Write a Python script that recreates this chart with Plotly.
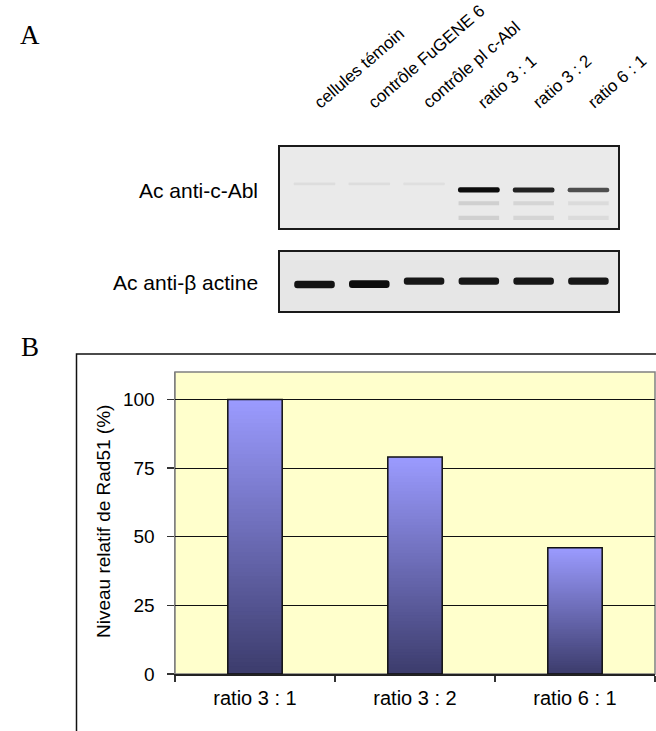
import plotly.graph_objects as go

W, H = 656, 731


def px(x):
    return x / W


def py(y):
    return 1 - y / H


# ---------------- data ----------------
categories = ["ratio 3 : 1", "ratio 3 : 2", "ratio 6 : 1"]
rad51_level = [100, 79, 46]
y_ticks = [0, 25, 50, 75, 100]
y_title = "Niveau relatif de Rad51 (%)"

lanes = ["cellules témoin", "contrôle FuGENE 6", "contrôle pl c-Abl",
         "ratio 3 : 1", "ratio 3 : 2", "ratio 6 : 1"]
abl_signal = [0.05, 0.05, 0.04, 1.0, 0.9, 0.7]        # relative band intensity
abl_smear = [0.0, 0.0, 0.0, 0.22, 0.18, 0.13]        # faint smear below band
actin_signal = [0.97, 1.0, 0.95, 0.95, 0.95, 0.95]
row_labels = ["Ac anti-c-Abl", "Ac anti-β actine"]
panel_labels = ["A", "B"]

SANS = "Liberation Sans, Arial, sans-serif"
SERIF = "Liberation Serif, Times New Roman, serif"


def grey(intensity, light=232, dark=12):
    g = int(round(light - (light - dark) * intensity))
    return f"rgb({g},{g},{g})"


fig = go.Figure()

# ---------------- panel B: gradient bars (overlapping slices, bottom -> top) ----------------
N = 70
bottom_rgb = (60, 60, 108)
top_rgb = (155, 155, 255)
for k in range(N):
    t = (k + 0.5) / N
    c = tuple(int(round(b + (tp - b) * t)) for b, tp in zip(bottom_rgb, top_rgb))
    col = f"rgb{c}"
    overlap = 2.0 if k < N - 1 else 1.0
    fig.add_trace(go.Bar(
        x=categories,
        y=[v / N * overlap for v in rad51_level],
        base=[v * k / N for v in rad51_level],
        width=0.34,
        marker=dict(color=col, line=dict(width=0)),
        showlegend=False, hoverinfo="skip",
        xaxis="x", yaxis="y",
    ))
fig.add_trace(go.Bar(
    x=categories, y=rad51_level, width=0.34,
    marker=dict(color="rgba(0,0,0,0)", line=dict(color="#111111", width=1.5)),
    showlegend=False, xaxis="x", yaxis="y",
))

# ---------------- panel A: blots ----------------
for pos in (0.10, 0.28):
    fig.add_trace(go.Bar(
        x=lanes, y=[0.05] * len(lanes), base=[pos] * len(lanes),
        width=0.74,
        marker=dict(color=[f"rgba(120,120,120,{s})" for s in abl_smear], line=dict(width=0)),
        showlegend=False, hoverinfo="skip", xaxis="x2", yaxis="y2",
    ))
abl_pos = [0.545 if s < 0.5 else 0.47 for s in abl_signal]
abl_thick = [0.03 + 0.035 * s for s in abl_signal]
fig.add_trace(go.Bar(
    x=lanes, y=abl_thick, base=[p - t / 2 for p, t in zip(abl_pos, abl_thick)],
    width=0.76,
    marker=dict(color=[grey(s) for s in abl_signal], line=dict(width=0), cornerradius=2),
    showlegend=False, hoverinfo="skip", xaxis="x2", yaxis="y2",
))
actin_pos = [0.45, 0.455, 0.505, 0.505, 0.505, 0.505]
actin_thick = [0.13 * s for s in actin_signal]
fig.add_trace(go.Bar(
    x=lanes, y=actin_thick, base=[p - t / 2 for p, t in zip(actin_pos, actin_thick)],
    width=0.74,
    marker=dict(color=[grey(s) for s in actin_signal], line=dict(width=0), cornerradius=3),
    showlegend=False, hoverinfo="skip", xaxis="x3", yaxis="y3",
))

blot_x = [px(280), px(618)]
lane_range = [-0.63, 5.54]

fig.update_layout(
    width=W, height=H,
    margin=dict(l=0, r=0, t=0, b=0),
    paper_bgcolor="white", plot_bgcolor="rgba(0,0,0,0)",
    barmode="overlay",
    showlegend=False,
    font=dict(family=SANS, color="black"),
    xaxis=dict(
        domain=[px(175), px(655)], anchor="y",
        type="category", range=[-0.5, 2.5],
        showline=True, linecolor="#222222", linewidth=1.5,
        ticks="outside", tickson="boundaries", ticklen=6, tickcolor="#333333", tickwidth=1.2,
        tickfont=dict(size=20, family=SANS, color="black"),
        ticklabelstandoff=5,
        showgrid=False, automargin=False, fixedrange=True,
    ),
    yaxis=dict(
        domain=[py(674), py(372)], anchor="x",
        range=[0, 110], tickvals=y_ticks,
        showline=True, linecolor="#808080", linewidth=1.5,
        ticks="outside", ticklen=7, tickcolor="#333333", tickwidth=1.2,
        tickfont=dict(size=19, family=SANS, color="black"),
        ticklabelstandoff=8,
        showgrid=True, gridcolor="#111111", gridwidth=1,
        zeroline=False, automargin=False, fixedrange=True,
    ),
    xaxis2=dict(domain=blot_x, anchor="y2", type="category", range=lane_range,
                showline=True, mirror=True, linecolor="#1a1a1a", linewidth=2,
                showticklabels=False, ticks="", showgrid=False, automargin=False),
    yaxis2=dict(domain=[py(228), py(147)], anchor="x2", range=[0, 1],
                showline=True, mirror=True, linecolor="#1a1a1a", linewidth=2,
                showticklabels=False, ticks="", showgrid=False, zeroline=False,
                automargin=False),
    xaxis3=dict(domain=blot_x, anchor="y3", type="category", range=lane_range,
                showline=True, mirror=True, linecolor="#1a1a1a", linewidth=2,
                showticklabels=False, ticks="", showgrid=False, automargin=False),
    yaxis3=dict(domain=[py(311), py(252)], anchor="x3", range=[0, 1],
                showline=True, mirror=True, linecolor="#1a1a1a", linewidth=2,
                showticklabels=False, ticks="", showgrid=False, zeroline=False,
                automargin=False),
)

shapes = [
    dict(type="rect", xref="x domain", yref="y domain", x0=0, x1=1, y0=0, y1=1,
         fillcolor="#FFFFCC", line=dict(color="#808080", width=1.5), layer="below"),
    dict(type="rect", xref="x2 domain", yref="y2 domain", x0=0, x1=1, y0=0, y1=1,
         fillcolor="#EAEAEA", line=dict(width=0), layer="below"),
    dict(type="rect", xref="x3 domain", yref="y3 domain", x0=0, x1=1, y0=0, y1=1,
         fillcolor="#E6E6E6", line=dict(width=0), layer="below"),
    dict(type="rect", xref="paper", yref="paper", x0=px(76.5), x1=1.05, y0=-0.05, y1=py(354),
         line=dict(color="#111111", width=1.5), fillcolor="rgba(0,0,0,0)", layer="below"),
]
fig.update_layout(shapes=shapes)

ann = []
ann.append(dict(text=panel_labels[0], x=px(30), y=py(35), xref="paper", yref="paper",
                xanchor="center", yanchor="middle", showarrow=False,
                font=dict(family=SERIF, size=27, color="black")))
ann.append(dict(text=panel_labels[1], x=px(30), y=py(347), xref="paper", yref="paper",
                xanchor="center", yanchor="middle", showarrow=False,
                font=dict(family=SERIF, size=27, color="black")))
for lab, yy in zip(row_labels, [190, 282]):
    ann.append(dict(text=lab, x=px(260), y=py(yy), xref="paper", yref="paper",
                    xanchor="right", yanchor="middle", showarrow=False,
                    font=dict(size=21, family=SANS, color="black")))
for i, lab in enumerate(lanes):
    lane_x = 314.6 + 54.8 * i
    ann.append(dict(text=lab, x=px(lane_x - 7), y=py(115), xref="paper", yref="paper",
                    xanchor="left", yanchor="bottom", textangle=-41, showarrow=False,
                    font=dict(size=17, family=SANS, color="black")))
ann.append(dict(text=y_title, x=px(103), y=py(522), xref="paper", yref="paper",
                xanchor="center", yanchor="middle",
                textangle=-90, showarrow=False,
                font=dict(size=19, family=SANS, color="black")))
fig.update_layout(annotations=ann)

fig.write_html("out.html",
               config={"displayModeBar": False, "staticPlot": True},
               post_script="document.body.style.margin='0';document.body.style.overflow='hidden';")
